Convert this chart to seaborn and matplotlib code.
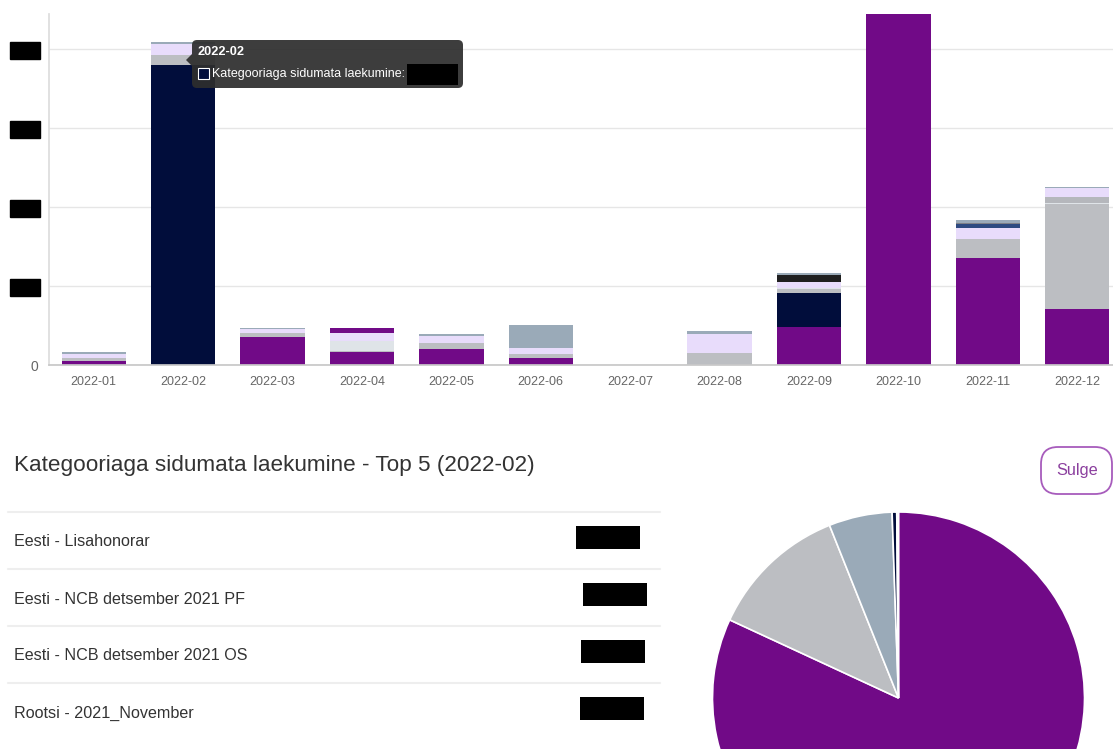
import numpy as np
import matplotlib.pyplot as plt
from matplotlib.patches import FancyBboxPatch, Rectangle, Polygon
import seaborn as sns

# ---- data (one y grid step = 1 unit, axis labels are redacted) ----
months = ['2022-01', '2022-02', '2022-03', '2022-04', '2022-05', '2022-06',
          '2022-07', '2022-08', '2022-09', '2022-10', '2022-11', '2022-12']

# stacked series, bottom -> top
purple_main = [0.05, 0.00, 0.36, 0.17, 0.20, 0.09, 0, 0.00, 0.48, 5.20, 1.36, 0.71]
unlinked = [0.00, 3.80, 0.00, 0.00, 0.00, 0.00, 0, 0.00, 0.43, 0.00, 0.00, 0.00]
gray_a = [0.04, 0.13, 0.04, 0.01, 0.08, 0.05, 0, 0.15, 0.05, 0.00, 0.23, 1.33]
pale_gray = [0.00, 0.00, 0.00, 0.12, 0.00, 0.00, 0, 0.00, 0.02, 0.00, 0.00, 0.015]
gray_b = [0.00, 0.00, 0.00, 0.00, 0.00, 0.00, 0, 0.00, 0.00, 0.00, 0.00, 0.07]
lavender = [0.055, 0.13, 0.05, 0.10, 0.09, 0.07, 0, 0.24, 0.07, 0.00, 0.14, 0.12]
purple_top = [0.00, 0.00, 0.00, 0.07, 0.00, 0.00, 0, 0.00, 0.00, 0.00, 0.00, 0.00]
black_s = [0.00, 0.00, 0.00, 0.00, 0.00, 0.00, 0, 0.00, 0.09, 0.00, 0.00, 0.00]
blue_s = [0.00, 0.00, 0.00, 0.00, 0.00, 0.00, 0, 0.00, 0.00, 0.00, 0.05, 0.00]
dark_gray = [0.00, 0.00, 0.00, 0.00, 0.00, 0.00, 0, 0.00, 0.00, 0.00, 0.02, 0.00]
blue_gray = [0.02, 0.03, 0.02, 0.00, 0.02, 0.30, 0, 0.04, 0.02, 0.00, 0.03, 0.01]

stack_values = [purple_main, unlinked, gray_a, pale_gray, gray_b, lavender,
                purple_top, black_s, blue_s, dark_gray, blue_gray]
stack_colors = ['#710a87', '#010d3b', '#bcbec2', '#dfe4e8', '#b5b7bc', '#e8dcfb',
                '#710a87', '#1f1f1f', '#2d4a80', '#7d7f86', '#9aaab8']

y_ticks = [0, 1, 2, 3, 4]

tooltip_month = '2022-02'
tooltip_series = 'Kategooriaga sidumata laekumine'

top5_title = 'Kategooriaga sidumata laekumine - Top 5 (2022-02)'
top5_labels = ['Eesti - Lisahonorar', 'Eesti - NCB detsember 2021 PF',
               'Eesti - NCB detsember 2021 OS', 'Rootsi - 2021_November']
top5_share = [81.9, 12.05, 5.5, 0.4, 0.15]
top5_colors = ['#710a87', '#bcbec2', '#9aaab8', '#010d3b', '#e8dcfb']

sns.set_theme(style='white')
plt.rcParams['font.family'] = ['Liberation Sans', 'DejaVu Sans']

W, H = 1113, 749
fig = plt.figure(figsize=(W / 100, H / 100), dpi=100, facecolor='white')


def px_box(x0, y0, x1, y1):
    return [x0 / W, 1 - y1 / H, (x1 - x0) / W, (y1 - y0) / H]


# ---- stacked bar chart ----
ax = fig.add_axes(px_box(49, 14, 1113, 365))
cum = np.cumsum(np.array(stack_values), axis=0)
for i in range(len(stack_values) - 1, -1, -1):
    sns.barplot(x=months, y=cum[i], color=stack_colors[i], width=0.72,
                saturation=1, errorbar=None, linewidth=0, ax=ax)

ax.set_xlim(-0.5, 11.4)
ax.set_ylim(0, 4.443)
ax.set_yticks(y_ticks)
ax.set_yticklabels(['0'] + [f'{t * 1000:.0f}' for t in y_ticks[1:]])
ax.set_xlabel('')
ax.set_ylabel('')
ax.yaxis.grid(True, color='#e6e6e6', lw=1)
ax.xaxis.grid(False)
ax.set_axisbelow(True)
for side in ['top', 'right']:
    ax.spines[side].set_visible(False)
ax.spines['left'].set_color('#dddddd')
ax.spines['bottom'].set_color('#c8c8c8')
ax.tick_params(axis='x', length=0, labelsize=9, colors='#666666', pad=8)
ax.tick_params(axis='y', length=0, labelsize=8.3, colors='#666666', pad=8)
ylabels = ax.get_yticklabels()
ylabels[0].set_fontsize(10)
# redacted y labels
for lab in ylabels[1:]:
    lab.set_color('black')
    lab.set_bbox(dict(facecolor='black', edgecolor='black', boxstyle='square,pad=0.2'))

# ---- overlay in pixel coordinates ----
ui = fig.add_axes([0, 0, 1, 1])
ui.set_xlim(0, W)
ui.set_ylim(H, 0)
ui.axis('off')
ui.set_zorder(5)
ui.patch.set_alpha(0)

# tooltip
ui.add_patch(FancyBboxPatch((192, 40), 271, 48, boxstyle='round,pad=0,rounding_size=5',
                            fc='#2e2e2e', ec='none', alpha=0.93))
ui.add_patch(Polygon([(192, 54), (186, 60), (192, 66)], closed=True, fc='#2e2e2e',
                     ec='none', alpha=0.93))
ui.text(198, 52, tooltip_month, color='white', fontsize=9.2, fontweight='bold', va='center')
ui.add_patch(Rectangle((198, 68), 11, 11, fc='#010d3b', ec='white', lw=0.8))
ui.text(212, 74, tooltip_series + ':', color='white', fontsize=9, va='center')
ui.add_patch(Rectangle((407, 64), 51, 21, fc='black', ec='none'))

# top 5 title and list
ui.text(14, 466, top5_title, fontsize=16.2, color='#333333', va='center')
for i, label in enumerate(top5_labels):
    y_line = 512 + 57 * i
    ui.plot([8, 660], [y_line, y_line], color='#eeeeee', lw=1.5)
    ui.text(14, y_line + 30, label, fontsize=11.6, color='#333333', va='center')
    ui.add_patch(Rectangle((577 + (-1, 6, 4, 3)[i], y_line + 14), 64, 23, fc='black', ec='none'))

# close button
ui.add_patch(FancyBboxPatch((1041, 447), 71, 47, boxstyle='round,pad=0,rounding_size=17',
                            fc='white', ec='#a75cbc', lw=1.3))
ui.text(1077, 471, 'Sulge', fontsize=11.7, color='#8b3f9e', ha='center', va='center')

# ---- pie chart ----
cx, cy, r = 898.5, 698, 186
pax = fig.add_axes(px_box(cx - r, cy - r, cx + r, cy + r))
pax.pie(top5_share, colors=top5_colors, startangle=90, counterclock=False,
        wedgeprops=dict(edgecolor='white', linewidth=1.2))
pax.set_xlim(-1, 1)
pax.set_ylim(-1, 1)

fig.savefig('out.png', dpi=100)
